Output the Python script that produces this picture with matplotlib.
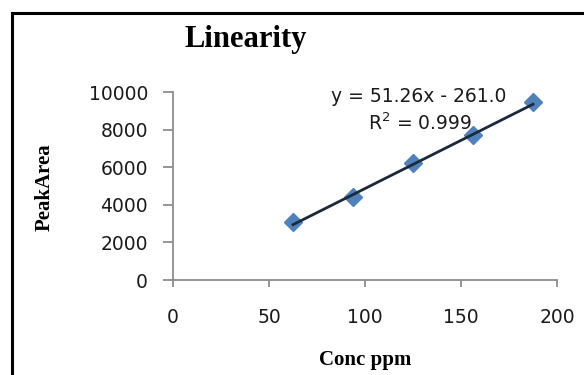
import numpy as np
import matplotlib
matplotlib.use('Agg')
import matplotlib.pyplot as plt
from matplotlib.patches import Rectangle

conc = [62.5, 93.75, 125, 156.25, 187.5]
peak_area = [3060, 4440, 6220, 7730, 9480]
xticks = [0, 50, 100, 150, 200]
yticks = [0, 2000, 4000, 6000, 8000, 10000]
eq_text = 'y = 51.26x - 261.0'
r2_text = 'R$^2$ = 0.999'

slope, intercept = 51.26, -261.0

fig = plt.figure(figsize=(5.84, 3.75), dpi=100)
fig.patch.set_facecolor('white')
# black frame around the chart (runs off the right and bottom edges)
fig.patches.append(Rectangle((11.5 / 584, -0.1), 1.2, (375 - 13) / 375 + 0.1,
                             transform=fig.transFigure, fill=False,
                             edgecolor='black', linewidth=2.2))

ax = fig.add_axes([173 / 584, 95 / 375, 384 / 584, 188 / 375])
fit_x = np.array([conc[0], conc[-1]])
ax.plot(fit_x, slope * fit_x + intercept, color='#1b2a3a', linewidth=2, zorder=3)
ax.plot(conc, peak_area, linestyle='none', marker='D', markersize=9,
        color='#4f81bd', zorder=2)

ax.set_xlim(0, 200)
ax.set_ylim(0, 10000)
ax.set_xticks(xticks)
ax.set_yticks(yticks)
for s in ['top', 'right']:
    ax.spines[s].set_visible(False)
for s in ['left', 'bottom']:
    ax.spines[s].set_color('#8c8c8c')
    ax.spines[s].set_linewidth(1.3)
ax.tick_params(axis='y', direction='out', length=7, width=1.3, color='#8c8c8c',
               pad=11, labelsize=13.5, labelcolor='#1a1a1a')
ax.tick_params(axis='x', direction='out', length=5, width=1.3, color='#8c8c8c',
               pad=15, labelsize=13.5, labelcolor='#1a1a1a')

fig.text(419 / 584, 1 - 97 / 375, eq_text, fontsize=13.5, ha='center', va='center',
         color='#1a1a1a')
fig.text(420 / 584, 1 - 123 / 375, r2_text, fontsize=13.5, ha='center', va='center',
         color='#1a1a1a')

fig.text(246 / 584, 1 - 39 / 375, 'Linearity', family='Liberation Serif',
         weight='bold', fontsize=22, ha='center', va='center')
fig.text(365 / 584, 1 - 360 / 375, 'Conc ppm', family='Liberation Serif',
         weight='bold', fontsize=15, ha='center', va='center')
fig.text(45 / 584, 1 - 187 / 375, 'PeakArea', family='Liberation Serif',
         weight='bold', fontsize=15, ha='center', va='center', rotation=90)

fig.savefig('out.png', dpi=100)
